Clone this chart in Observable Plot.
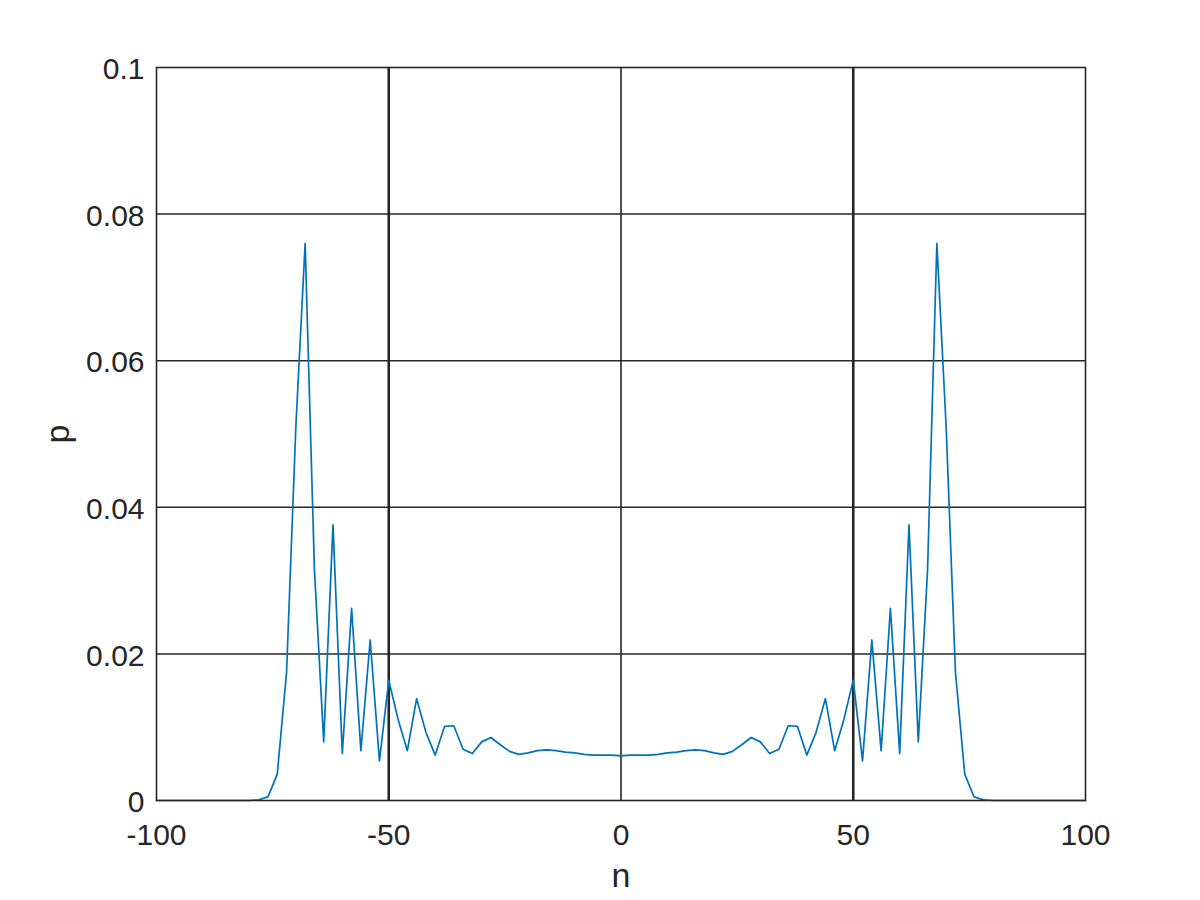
<!DOCTYPE html>
<html>
<head>
<meta charset="utf-8">
<script src="https://cdn.jsdelivr.net/npm/d3@7"></script>
<script src="https://cdn.jsdelivr.net/npm/@observablehq/plot@0.6"></script>
<style>
  html, body { margin: 0; padding: 0; background: #ffffff; }
</style>
</head>
<body>
<div id="chart"></div>
<script>
// Position n (even sites only)
const nValues = [
  -100, -98, -96, -94, -92, -90, -88, -86, -84, -82,
  -80, -78, -76, -74, -72, -70, -68, -66, -64, -62,
  -60, -58, -56, -54, -52, -50, -48, -46, -44, -42,
  -40, -38, -36, -34, -32, -30, -28, -26, -24, -22,
  -20, -18, -16, -14, -12, -10, -8, -6, -4, -2,
  0,
  2, 4, 6, 8, 10, 12, 14, 16, 18, 20,
  22, 24, 26, 28, 30, 32, 34, 36, 38, 40,
  42, 44, 46, 48, 50, 52, 54, 56, 58, 60,
  62, 64, 66, 68, 70, 72, 74, 76, 78, 80,
  82, 84, 86, 88, 90, 92, 94, 96, 98, 100
];
// Probability p at each position
const pValues = [
  0, 0, 0, 0, 0, 0, 0, 0, 0, 0,
  0, 0.0001, 0.0005, 0.0036, 0.0175, 0.0510, 0.0760, 0.0315, 0.0080, 0.0376,
  0.0064, 0.0262, 0.0068, 0.0219, 0.0054, 0.0164, 0.0111, 0.0068, 0.0139, 0.0093,
  0.0062, 0.0101, 0.0102, 0.0070, 0.0064, 0.0080, 0.0086, 0.0076, 0.0067, 0.0063,
  0.0065, 0.0068, 0.0069, 0.0068, 0.0066, 0.0065, 0.0063, 0.0062, 0.0062, 0.0062,
  0.0061,
  0.0062, 0.0062, 0.0062, 0.0063, 0.0065, 0.0066, 0.0068, 0.0069, 0.0068, 0.0065,
  0.0063, 0.0067, 0.0076, 0.0086, 0.0080, 0.0064, 0.0070, 0.0102, 0.0101, 0.0062,
  0.0093, 0.0139, 0.0068, 0.0111, 0.0164, 0.0054, 0.0219, 0.0068, 0.0262, 0.0064,
  0.0376, 0.0080, 0.0315, 0.0760, 0.0510, 0.0175, 0.0036, 0.0005, 0.0001, 0,
  0, 0, 0, 0, 0, 0, 0, 0, 0, 0
];
const xTicks = [-100, -50, 0, 50, 100];
const yTicks = [0, 0.02, 0.04, 0.06, 0.08, 0.1];
const xLabel = "n";
const yLabel = "p";

const data = nValues.map((n, i) => ({ n, p: pValues[i] }));
const ink = "#262626";

const chart = Plot.plot({
  width: 1200,
  height: 900,
  marginLeft: 156,
  marginRight: 115,
  marginTop: 67,
  marginBottom: 100,
  x: { domain: [-100, 100] },
  y: { domain: [0, 0.1] },
  style: {
    fontFamily: "'Liberation Sans', Arial, sans-serif",
    fontSize: "30px",
    color: ink,
    background: "#ffffff"
  },
  marks: [
    Plot.gridY(yTicks.filter(d => d > 0 && d < 0.1), { stroke: ink, strokeOpacity: 1, strokeWidth: 1.5 }),
    Plot.gridX(xTicks.filter(d => d === 0), { stroke: ink, strokeOpacity: 1, strokeWidth: 1.6 }),
    Plot.gridX(xTicks.filter(d => Math.abs(d) === 50), { stroke: ink, strokeOpacity: 1, strokeWidth: 2.6 }),
    Plot.line(data, { x: "n", y: "p", stroke: "#0072BD", strokeWidth: 1.7 }),
    Plot.frame({ stroke: ink, strokeWidth: 1.6 }),
    Plot.axisX(xTicks, {
      tickSize: 0, tickPadding: 23, tickFormat: d => String(d),
      fontSize: 30, label: null
    }),
    Plot.axisY(yTicks, {
      tickSize: 0, tickPadding: 12, tickFormat: d => String(d),
      fontSize: 30, dy: 2, label: null
    }),
    Plot.axisX({
      ticks: [], tickSize: 0,
      label: xLabel, labelAnchor: "center", labelArrow: "none", labelOffset: 86,
      fontSize: 34
    }),
    Plot.axisY({
      ticks: [], tickSize: 0,
      label: yLabel, labelAnchor: "center", labelArrow: "none", labelOffset: 112,
      fontSize: 34
    })
  ]
});
document.getElementById("chart").appendChild(chart);
</script>
</body>
</html>
